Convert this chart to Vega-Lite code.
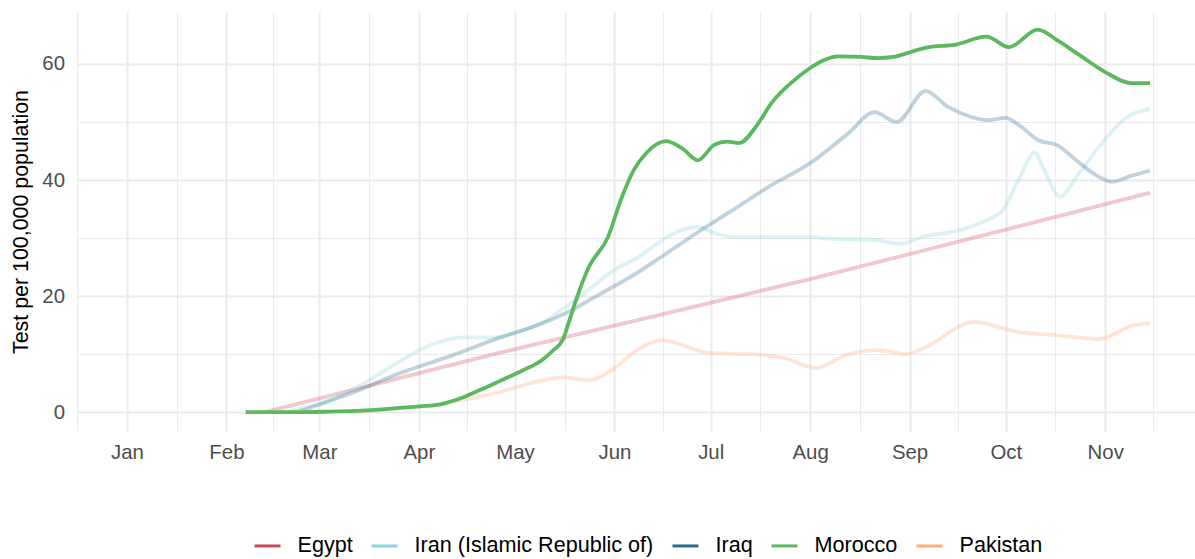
{
  "$schema": "https://vega.github.io/schema/vega-lite/v6.json",
  "width": 1118,
  "height": 419,
  "autosize": {"type": "none"},
  "padding": {"left": 77, "top": 12, "right": 0, "bottom": 128},
  "background": "white",
  "config": {
    "font": "Liberation Sans",
    "view": {"stroke": null},
    "axis": {"tickSize": 0}
  },
  "data": {
    "values": [
      {"country": "Egypt", "date": "2020-02-13", "value": 0},
      {"country": "Egypt", "date": "2020-04-26", "value": 10.2},
      {"country": "Egypt", "date": "2020-07-31", "value": 22.8},
      {"country": "Egypt", "date": "2020-09-15", "value": 29.2},
      {"country": "Egypt", "date": "2020-11-15", "value": 37.8},

      {"country": "Iran (Islamic Republic of)", "date": "2020-02-19", "value": 0},
      {"country": "Iran (Islamic Republic of)", "date": "2020-03-04", "value": 2.1},
      {"country": "Iran (Islamic Republic of)", "date": "2020-03-15", "value": 5.0},
      {"country": "Iran (Islamic Republic of)", "date": "2020-03-25", "value": 8.4},
      {"country": "Iran (Islamic Republic of)", "date": "2020-04-04", "value": 11.4},
      {"country": "Iran (Islamic Republic of)", "date": "2020-04-15", "value": 12.9},
      {"country": "Iran (Islamic Republic of)", "date": "2020-04-25", "value": 12.9},
      {"country": "Iran (Islamic Republic of)", "date": "2020-05-03", "value": 14.0},
      {"country": "Iran (Islamic Republic of)", "date": "2020-05-11", "value": 15.9},
      {"country": "Iran (Islamic Republic of)", "date": "2020-05-16", "value": 17.8},
      {"country": "Iran (Islamic Republic of)", "date": "2020-05-21", "value": 19.8},
      {"country": "Iran (Islamic Republic of)", "date": "2020-06-01", "value": 24.5},
      {"country": "Iran (Islamic Republic of)", "date": "2020-06-09", "value": 26.9},
      {"country": "Iran (Islamic Republic of)", "date": "2020-06-16", "value": 29.7},
      {"country": "Iran (Islamic Republic of)", "date": "2020-06-22", "value": 31.4},
      {"country": "Iran (Islamic Republic of)", "date": "2020-06-27", "value": 31.9},
      {"country": "Iran (Islamic Republic of)", "date": "2020-07-02", "value": 30.9},
      {"country": "Iran (Islamic Republic of)", "date": "2020-07-08", "value": 30.2},
      {"country": "Iran (Islamic Republic of)", "date": "2020-07-20", "value": 30.2},
      {"country": "Iran (Islamic Republic of)", "date": "2020-07-31", "value": 30.2},
      {"country": "Iran (Islamic Republic of)", "date": "2020-08-10", "value": 29.8},
      {"country": "Iran (Islamic Republic of)", "date": "2020-08-21", "value": 29.7},
      {"country": "Iran (Islamic Republic of)", "date": "2020-08-29", "value": 29.0},
      {"country": "Iran (Islamic Republic of)", "date": "2020-09-05", "value": 30.2},
      {"country": "Iran (Islamic Republic of)", "date": "2020-09-17", "value": 31.4},
      {"country": "Iran (Islamic Republic of)", "date": "2020-09-23", "value": 32.6},
      {"country": "Iran (Islamic Republic of)", "date": "2020-09-30", "value": 34.8},
      {"country": "Iran (Islamic Republic of)", "date": "2020-10-05", "value": 40.0},
      {"country": "Iran (Islamic Republic of)", "date": "2020-10-10", "value": 44.7},
      {"country": "Iran (Islamic Republic of)", "date": "2020-10-13", "value": 41.7},
      {"country": "Iran (Islamic Republic of)", "date": "2020-10-18", "value": 37.1},
      {"country": "Iran (Islamic Republic of)", "date": "2020-10-23", "value": 40.5},
      {"country": "Iran (Islamic Republic of)", "date": "2020-10-31", "value": 46.4},
      {"country": "Iran (Islamic Republic of)", "date": "2020-11-08", "value": 50.9},
      {"country": "Iran (Islamic Republic of)", "date": "2020-11-15", "value": 52.2},

      {"country": "Iraq", "date": "2020-02-23", "value": 0},
      {"country": "Iraq", "date": "2020-03-11", "value": 3.3},
      {"country": "Iraq", "date": "2020-03-26", "value": 6.7},
      {"country": "Iraq", "date": "2020-04-11", "value": 9.7},
      {"country": "Iraq", "date": "2020-04-26", "value": 12.8},
      {"country": "Iraq", "date": "2020-05-09", "value": 15.2},
      {"country": "Iraq", "date": "2020-05-17", "value": 17.1},
      {"country": "Iraq", "date": "2020-05-27", "value": 20.2},
      {"country": "Iraq", "date": "2020-06-06", "value": 23.3},
      {"country": "Iraq", "date": "2020-06-16", "value": 26.9},
      {"country": "Iraq", "date": "2020-06-27", "value": 31.0},
      {"country": "Iraq", "date": "2020-07-07", "value": 34.5},
      {"country": "Iraq", "date": "2020-07-19", "value": 38.8},
      {"country": "Iraq", "date": "2020-08-01", "value": 42.9},
      {"country": "Iraq", "date": "2020-08-13", "value": 48.1},
      {"country": "Iraq", "date": "2020-08-21", "value": 51.7},
      {"country": "Iraq", "date": "2020-08-28", "value": 50.0},
      {"country": "Iraq", "date": "2020-09-06", "value": 55.3},
      {"country": "Iraq", "date": "2020-09-13", "value": 52.6},
      {"country": "Iraq", "date": "2020-09-20", "value": 50.9},
      {"country": "Iraq", "date": "2020-09-25", "value": 50.3},
      {"country": "Iraq", "date": "2020-10-01", "value": 50.7},
      {"country": "Iraq", "date": "2020-10-05", "value": 49.5},
      {"country": "Iraq", "date": "2020-10-11", "value": 46.9},
      {"country": "Iraq", "date": "2020-10-17", "value": 46.0},
      {"country": "Iraq", "date": "2020-10-23", "value": 43.4},
      {"country": "Iraq", "date": "2020-10-29", "value": 40.9},
      {"country": "Iraq", "date": "2020-11-03", "value": 39.7},
      {"country": "Iraq", "date": "2020-11-09", "value": 40.7},
      {"country": "Iraq", "date": "2020-11-15", "value": 41.6},

      {"country": "Morocco", "date": "2020-02-07", "value": 0},
      {"country": "Morocco", "date": "2020-02-24", "value": 0},
      {"country": "Morocco", "date": "2020-03-04", "value": 0.1},
      {"country": "Morocco", "date": "2020-03-14", "value": 0.26},
      {"country": "Morocco", "date": "2020-03-23", "value": 0.6},
      {"country": "Morocco", "date": "2020-04-01", "value": 1.0},
      {"country": "Morocco", "date": "2020-04-08", "value": 1.4},
      {"country": "Morocco", "date": "2020-04-14", "value": 2.4},
      {"country": "Morocco", "date": "2020-04-20", "value": 3.8},
      {"country": "Morocco", "date": "2020-04-26", "value": 5.3},
      {"country": "Morocco", "date": "2020-05-03", "value": 7.1},
      {"country": "Morocco", "date": "2020-05-09", "value": 8.8},
      {"country": "Morocco", "date": "2020-05-13", "value": 10.7},
      {"country": "Morocco", "date": "2020-05-16", "value": 12.6},
      {"country": "Morocco", "date": "2020-05-18", "value": 15.9},
      {"country": "Morocco", "date": "2020-05-20", "value": 19.3},
      {"country": "Morocco", "date": "2020-05-24", "value": 25.0},
      {"country": "Morocco", "date": "2020-05-30", "value": 30.2},
      {"country": "Morocco", "date": "2020-06-03", "value": 36.6},
      {"country": "Morocco", "date": "2020-06-07", "value": 41.7},
      {"country": "Morocco", "date": "2020-06-11", "value": 44.7},
      {"country": "Morocco", "date": "2020-06-17", "value": 46.7},
      {"country": "Morocco", "date": "2020-06-22", "value": 45.5},
      {"country": "Morocco", "date": "2020-06-27", "value": 43.4},
      {"country": "Morocco", "date": "2020-07-02", "value": 46.0},
      {"country": "Morocco", "date": "2020-07-06", "value": 46.6},
      {"country": "Morocco", "date": "2020-07-10", "value": 46.4},
      {"country": "Morocco", "date": "2020-07-15", "value": 49.1},
      {"country": "Morocco", "date": "2020-07-20", "value": 53.3},
      {"country": "Morocco", "date": "2020-07-26", "value": 56.7},
      {"country": "Morocco", "date": "2020-08-01", "value": 59.3},
      {"country": "Morocco", "date": "2020-08-05", "value": 60.6},
      {"country": "Morocco", "date": "2020-08-10", "value": 61.3},
      {"country": "Morocco", "date": "2020-08-17", "value": 61.2},
      {"country": "Morocco", "date": "2020-08-22", "value": 61.0},
      {"country": "Morocco", "date": "2020-08-27", "value": 61.2},
      {"country": "Morocco", "date": "2020-09-01", "value": 62.0},
      {"country": "Morocco", "date": "2020-09-07", "value": 62.9},
      {"country": "Morocco", "date": "2020-09-15", "value": 63.3},
      {"country": "Morocco", "date": "2020-09-25", "value": 64.7},
      {"country": "Morocco", "date": "2020-10-02", "value": 62.9},
      {"country": "Morocco", "date": "2020-10-11", "value": 65.9},
      {"country": "Morocco", "date": "2020-10-17", "value": 64.1},
      {"country": "Morocco", "date": "2020-10-23", "value": 61.9},
      {"country": "Morocco", "date": "2020-11-01", "value": 58.6},
      {"country": "Morocco", "date": "2020-11-09", "value": 56.7},
      {"country": "Morocco", "date": "2020-11-15", "value": 56.7},

      {"country": "Pakistan", "date": "2020-03-10", "value": 0},
      {"country": "Pakistan", "date": "2020-03-20", "value": 0.3},
      {"country": "Pakistan", "date": "2020-03-25", "value": 0.7},
      {"country": "Pakistan", "date": "2020-04-04", "value": 1.0},
      {"country": "Pakistan", "date": "2020-04-15", "value": 2.1},
      {"country": "Pakistan", "date": "2020-04-25", "value": 3.3},
      {"country": "Pakistan", "date": "2020-05-06", "value": 5.0},
      {"country": "Pakistan", "date": "2020-05-16", "value": 6.0},
      {"country": "Pakistan", "date": "2020-05-24", "value": 5.5},
      {"country": "Pakistan", "date": "2020-06-01", "value": 7.6},
      {"country": "Pakistan", "date": "2020-06-08", "value": 10.7},
      {"country": "Pakistan", "date": "2020-06-16", "value": 12.4},
      {"country": "Pakistan", "date": "2020-06-24", "value": 11.2},
      {"country": "Pakistan", "date": "2020-06-30", "value": 10.2},
      {"country": "Pakistan", "date": "2020-07-13", "value": 10.0},
      {"country": "Pakistan", "date": "2020-07-24", "value": 9.3},
      {"country": "Pakistan", "date": "2020-08-03", "value": 7.6},
      {"country": "Pakistan", "date": "2020-08-12", "value": 9.8},
      {"country": "Pakistan", "date": "2020-08-22", "value": 10.7},
      {"country": "Pakistan", "date": "2020-08-31", "value": 10.0},
      {"country": "Pakistan", "date": "2020-09-06", "value": 11.2},
      {"country": "Pakistan", "date": "2020-09-21", "value": 15.5},
      {"country": "Pakistan", "date": "2020-10-05", "value": 13.8},
      {"country": "Pakistan", "date": "2020-10-16", "value": 13.3},
      {"country": "Pakistan", "date": "2020-10-30", "value": 12.6},
      {"country": "Pakistan", "date": "2020-11-10", "value": 15.0},
      {"country": "Pakistan", "date": "2020-11-15", "value": 15.3}
    ]
  },
  "layer": [
    {
      "mark": {"type": "point", "opacity": 0},
      "encoding": {
        "x": {
          "field": "date", "type": "temporal",
          "scale": {"type": "utc", "domain": [{"year": 2019, "month": 12, "date": 16, "hours": 10, "utc": true}, {"year": 2020, "month": 11, "date": 29, "utc": true}]},
          "axis": {
            "orient": "bottom",
            "values": [
              {"year": 2019, "month": 12, "date": 16, "hours": 12, "utc": true},
              {"year": 2020, "month": 1, "date": 16, "hours": 12, "utc": true},
              {"year": 2020, "month": 2, "date": 15, "hours": 12, "utc": true},
              {"year": 2020, "month": 3, "date": 16, "hours": 12, "utc": true},
              {"year": 2020, "month": 4, "date": 16, "utc": true},
              {"year": 2020, "month": 5, "date": 16, "hours": 12, "utc": true},
              {"year": 2020, "month": 6, "date": 16, "utc": true},
              {"year": 2020, "month": 7, "date": 16, "hours": 12, "utc": true},
              {"year": 2020, "month": 8, "date": 16, "hours": 12, "utc": true},
              {"year": 2020, "month": 9, "date": 16, "utc": true},
              {"year": 2020, "month": 10, "date": 16, "hours": 12, "utc": true},
              {"year": 2020, "month": 11, "date": 16, "utc": true}
            ],
            "grid": true, "gridColor": "#EBEBEB", "gridWidth": 1,
            "labels": false, "ticks": false, "domain": false, "title": null
          }
        },
        "y": {
          "field": "value", "type": "quantitative",
          "scale": {"domain": [-3.25, 68.95], "nice": false, "zero": false},
          "axis": {
            "orient": "left",
            "values": [10, 30, 50],
            "grid": true, "gridColor": "#EBEBEB", "gridWidth": 1,
            "labels": false, "ticks": false, "domain": false, "title": null
          }
        }
      }
    },
    {
      "transform": [{"filter": "datum.country !== 'Morocco'"}],
      "mark": {"type": "line", "opacity": 0.3, "strokeWidth": 3.8, "strokeCap": "butt", "interpolate": "monotone"},
      "encoding": {
        "x": {
          "field": "date", "type": "temporal",
          "scale": {"type": "utc", "domain": [{"year": 2019, "month": 12, "date": 16, "hours": 10, "utc": true}, {"year": 2020, "month": 11, "date": 29, "utc": true}]},
          "axis": {
            "orient": "bottom",
            "values": [
              {"year": 2020, "month": 1, "date": 1, "utc": true},
              {"year": 2020, "month": 2, "date": 1, "utc": true},
              {"year": 2020, "month": 3, "date": 1, "utc": true},
              {"year": 2020, "month": 4, "date": 1, "utc": true},
              {"year": 2020, "month": 5, "date": 1, "utc": true},
              {"year": 2020, "month": 6, "date": 1, "utc": true},
              {"year": 2020, "month": 7, "date": 1, "utc": true},
              {"year": 2020, "month": 8, "date": 1, "utc": true},
              {"year": 2020, "month": 9, "date": 1, "utc": true},
              {"year": 2020, "month": 10, "date": 1, "utc": true},
              {"year": 2020, "month": 11, "date": 1, "utc": true}
            ],
            "labelExpr": "utcFormat(datum.value, '%b')",
            "grid": true, "gridColor": "#EBEBEB", "gridWidth": 2,
            "ticks": false, "domain": false, "title": null,
            "labelFontSize": 20.4, "labelColor": "#4D4D4D", "labelPadding": 11,
            "labelFlush": false, "labelOverlap": false
          }
        },
        "y": {
          "field": "value", "type": "quantitative",
          "scale": {"domain": [-3.25, 68.95], "nice": false, "zero": false},
          "axis": {
            "orient": "left",
            "values": [0, 20, 40, 60],
            "grid": true, "gridColor": "#EBEBEB", "gridWidth": 2,
            "ticks": false, "domain": false,
            "labelFontSize": 20.4, "labelColor": "#4D4D4D", "labelPadding": 12.5,
            "title": "Test per 100,000 population",
            "titleFontSize": 21.4, "titleColor": "#000000", "titleFontWeight": "normal",
            "titleX": -49.5, "titleY": 209.5, "titleAngle": 270,
            "titleBaseline": "alphabetic", "titleAlign": "center"
          }
        },
        "color": {
          "field": "country", "type": "nominal",
          "scale": {
            "domain": ["Egypt", "Iran (Islamic Republic of)", "Iraq", "Morocco", "Pakistan"],
            "range": ["#cc4c5c", "#8cd3df", "#2d6a8f", "#5cb85f", "#fdaa78"]
          },
          "legend": {
            "orient": "none", "direction": "horizontal", "legendX": 176, "legendY": 519,
            "title": null, "padding": 0,
            "symbolType": "stroke", "symbolSize": 676, "symbolStrokeWidth": 3, "symbolOpacity": 1,
            "labelFontSize": 21.6, "labelColor": "#000000", "labelOffset": 15.5, "labelLimit": 400,
            "columnPadding": 12
          }
        }
      }
    },
    {
      "transform": [{"filter": "datum.country === 'Morocco'"}],
      "mark": {"type": "line", "opacity": 1, "strokeWidth": 3.8, "strokeCap": "butt", "interpolate": "monotone"},
      "encoding": {
        "x": {
          "field": "date", "type": "temporal",
          "scale": {"type": "utc", "domain": [{"year": 2019, "month": 12, "date": 16, "hours": 10, "utc": true}, {"year": 2020, "month": 11, "date": 29, "utc": true}]},
          "axis": null
        },
        "y": {
          "field": "value", "type": "quantitative",
          "scale": {"domain": [-3.25, 68.95], "nice": false, "zero": false},
          "axis": null
        },
        "color": {
          "field": "country", "type": "nominal",
          "scale": {
            "domain": ["Egypt", "Iran (Islamic Republic of)", "Iraq", "Morocco", "Pakistan"],
            "range": ["#cc4c5c", "#8cd3df", "#2d6a8f", "#5cb85f", "#fdaa78"]
          },
          "legend": {
            "orient": "none", "direction": "horizontal", "legendX": 176, "legendY": 519,
            "title": null, "padding": 0,
            "symbolType": "stroke", "symbolSize": 676, "symbolStrokeWidth": 3, "symbolOpacity": 1,
            "labelFontSize": 21.6, "labelColor": "#000000", "labelOffset": 15.5, "labelLimit": 400,
            "columnPadding": 12
          }
        }
      }
    }
  ],
  "resolve": {"axis": {"x": "independent", "y": "independent"}}
}
